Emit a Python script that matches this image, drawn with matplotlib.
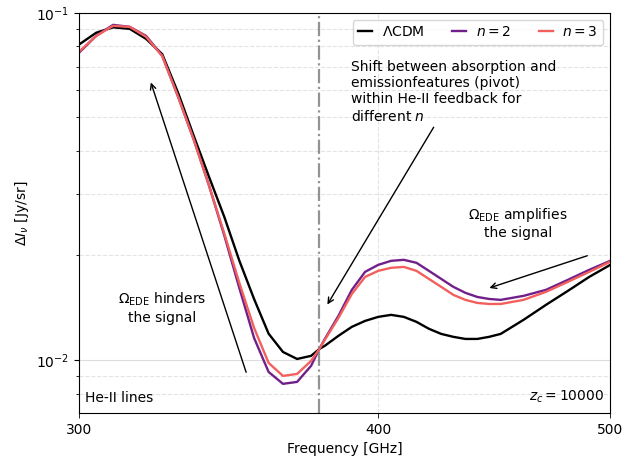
import numpy as np
import matplotlib
matplotlib.use('Agg')
import matplotlib.pyplot as plt
from matplotlib.ticker import ScalarFormatter, NullFormatter

# frequencies [GHz] and Delta I_nu [Jy/sr]
freq = np.array([300, 305, 310, 315, 320, 325, 330, 335, 340, 345, 350, 355, 360,
                 365, 370, 375, 378, 380, 385, 390, 395, 400, 405, 410, 415, 420,
                 425, 430, 435, 440, 445, 450, 460, 470, 480, 490, 500])
lcdm = np.array([0.0810, 0.0876, 0.0908, 0.0899, 0.0841, 0.0760, 0.0588, 0.0442,
                 0.0336, 0.0258, 0.01932, 0.01498, 0.01190, 0.01054, 0.01006,
                 0.01027, 0.01075, 0.01098, 0.01173, 0.01245, 0.01295, 0.01330,
                 0.01348, 0.01330, 0.01287, 0.01229, 0.01188, 0.01165, 0.01149,
                 0.01149, 0.01165, 0.01188, 0.01304, 0.01440, 0.01580, 0.01734,
                 0.01878])
n2 = np.array([0.0767, 0.0858, 0.0923, 0.0911, 0.0858, 0.0752, 0.0573, 0.0431,
               0.0317, 0.0228, 0.01612, 0.01157, 0.00923, 0.00853, 0.00864,
               0.00961, 0.01075, 0.01149, 0.01339, 0.01591, 0.01793, 0.01878,
               0.01929, 0.01942, 0.01904, 0.01805, 0.01711, 0.01623, 0.01560,
               0.01518, 0.01498, 0.01489, 0.01529, 0.01591, 0.01700, 0.01817,
               0.01929])
n3 = np.array([0.0772, 0.0858, 0.0917, 0.0911, 0.0853, 0.0750, 0.0573, 0.0431,
               0.0317, 0.0231, 0.01667, 0.01237, 0.00980, 0.00899, 0.00911,
               0.00993, 0.01075, 0.01142, 0.01321, 0.01549, 0.01734, 0.01805,
               0.01842, 0.01853, 0.01805, 0.01711, 0.01623, 0.01539, 0.01489,
               0.01459, 0.01449, 0.01449, 0.01489, 0.01570, 0.01678, 0.01793,
               0.01917])
pivot = 378

fig = plt.figure(figsize=(6.37, 4.57), dpi=100)
ax = fig.add_axes([0.124, 0.0963, 0.834, 0.8757])

ax.plot(freq, lcdm, color='black', lw=1.7, label=r'$\Lambda$CDM')
ax.plot(freq, n2, color='#71208a', lw=1.7, label=r'$n=2$')
ax.plot(freq, n3, color='#f1605d', lw=1.7, label=r'$n=3$')
ax.axvline(pivot, color='gray', ls='-.', lw=1.6, alpha=0.85)

ax.set_xscale('log')
ax.set_yscale('log')
ax.set_xlim(300, 500)
ax.set_ylim(0.00703, 0.1)
ax.xaxis.set_major_formatter(NullFormatter())
ax.xaxis.set_minor_formatter(ScalarFormatter())
ax.tick_params(axis='x', which='minor', length=3.5, labelsize=10)

ax.grid(which='major', ls='-', color='#dddddd', lw=0.8)
ax.grid(which='minor', ls='--', color='#e3e3e3', lw=0.8)

ax.set_xlabel('Frequency [GHz]')
ax.set_ylabel(r'$\Delta I_\nu$ [Jy/sr]')

ax.legend(loc='upper right', ncol=3, fontsize=10, handlelength=1.0,
          handletextpad=0.7)

ax.text(389.7, 0.0732, 'Shift between absorption and\nemissionfeatures (pivot)\n'
        'within He-II feedback for\ndifferent $n$', ha='left', va='top', fontsize=10)
ax.annotate('', xy=(380.4, 0.01421), xytext=(422.5, 0.04755),
            arrowprops=dict(arrowstyle='->', color='black', lw=1))

ax.text(457.6, 0.0248, '$\\Omega_{\\rm EDE}$ amplifies\nthe signal', ha='center',
        va='center', multialignment='center', fontsize=10)
ax.annotate('', xy=(444.0, 0.01602), xytext=(490.3, 0.02007),
            arrowprops=dict(arrowstyle='->', color='black', lw=1))

ax.text(324.9, 0.01412, '$\\Omega_{\\rm EDE}$ hinders\nthe signal', ha='center',
        va='center', multialignment='center', fontsize=10)
ax.annotate('', xy=(321.2, 0.0641), xytext=(352.6, 0.00905),
            arrowprops=dict(arrowstyle='->', color='black', lw=1))

ax.text(0.012, 0.02, 'He-II lines', transform=ax.transAxes, ha='left', va='bottom')
ax.text(0.988, 0.02, '$z_c = 10000$', transform=ax.transAxes, ha='right', va='bottom')

fig.savefig('out.png', dpi=100)
